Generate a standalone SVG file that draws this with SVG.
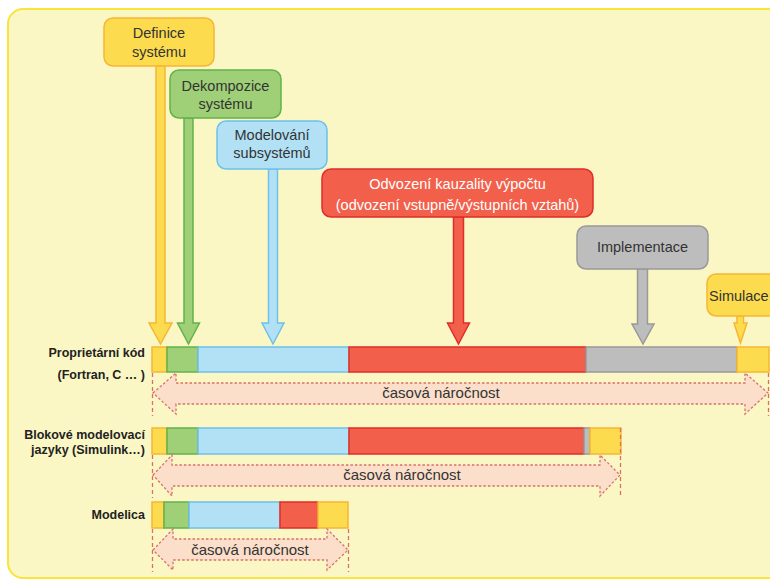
<svg xmlns="http://www.w3.org/2000/svg" width="770" height="579" viewBox="0 0 770 579">
<style>
.bt{font-family:"Liberation Sans",Arial,sans-serif;font-size:14.5px;fill:#333;text-anchor:middle}
.wt{fill:#fff}
.lb{font-family:"Liberation Sans",Arial,sans-serif;font-size:12.5px;font-weight:bold;fill:#222;text-anchor:end}
.ct{font-family:"Liberation Sans",Arial,sans-serif;font-size:15px;fill:#333;text-anchor:middle}
.y{fill:#fcdc4e;stroke:#f6b634;stroke-width:1.5}
.g{fill:#9fcf76;stroke:#62b34a;stroke-width:1.5}
.b{fill:#b2e1f6;stroke:#6fc0ea;stroke-width:1.5}
.r{fill:#f2604b;stroke:#e02c2a;stroke-width:1.5}
.k{fill:#bdbdbd;stroke:#999;stroke-width:1.5}
.da{fill:#fbdfca;stroke:#d9706a;stroke-width:1.3;stroke-dasharray:2.5 2}
.dl{fill:none;stroke:#d9706a;stroke-width:1.3;stroke-dasharray:4 3}
</style>
<rect x="8" y="9" width="775" height="569" rx="15" fill="#fbf7c4" stroke="#f8e43a" stroke-width="2"/>

<g id="connectors">
<polygon class="y" points="156,66 165,66 165,323 172,323 160.5,344 149,323 156,323"/>
<polygon class="g" points="184,118 193,118 193,323 199.5,323 188.5,344 177.5,323 184,323"/>
<polygon class="b" points="268.5,169 277.5,169 277.5,323 284,323 273,344 262,323 268.5,323"/>
<polygon class="r" points="453.5,217 463.5,217 463.5,323 469.5,323 458.5,344 447.5,323 453.5,323"/>
<polygon class="k" points="637.5,269 647.5,269 647.5,324 654,324 643,344 632,324 637.5,324"/>
<polygon class="y" points="737,316 743.5,316 743.5,323 747,323 740.5,343 734,323 737,323"/>
</g>

<g id="definice">
<rect class="y" x="104" y="18" width="110" height="48" rx="9"/>
<text class="bt" x="159" y="38">Definice</text>
<text class="bt" x="159" y="57">systému</text>
</g>
<g id="dekompozice">
<rect class="g" x="170" y="70" width="111" height="48" rx="9"/>
<text class="bt" x="225.5" y="91">Dekompozice</text>
<text class="bt" x="225.5" y="109">systému</text>
</g>
<g id="modelovani">
<rect class="b" x="217" y="121" width="110" height="48" rx="9"/>
<text class="bt" x="272" y="140">Modelování</text>
<text class="bt" x="272" y="158">subsystémů</text>
</g>
<g id="odvozeni">
<rect class="r" x="322" y="169" width="271" height="48" rx="9"/>
<text class="bt wt" x="457.5" y="189">Odvození kauzality výpočtu</text>
<text class="bt wt" x="457.5" y="210">(odvození vstupně/výstupních vztahů)</text>
</g>
<g id="implementace">
<rect class="k" x="577" y="226" width="131" height="43" rx="9"/>
<text class="bt" x="642.5" y="252">Implementace</text>
</g>
<g id="simulace">
<rect class="y" x="707" y="274" width="70" height="42" rx="9"/>
<text class="bt" x="709" y="301" style="text-anchor:start">Simulace</text>
</g>

<g id="row1">
<text class="lb" x="145" y="357">Proprietární kód</text>
<text class="lb" x="145" y="379">(Fortran, C … )</text>
<rect class="y" x="152" y="347" width="15" height="25"/>
<rect class="g" x="167" y="347" width="31" height="25"/>
<rect class="b" x="198" y="347" width="151" height="25"/>
<rect class="r" x="349" y="347" width="237" height="25"/>
<rect class="k" x="586" y="347" width="151" height="25"/>
<rect class="y" x="737" y="347" width="32" height="25"/>
<polygon class="da" points="153,393 176,373 176,383 745,383 745,373 768,393 745,414 745,404 176,404 176,414"/>
<line class="dl" x1="152.5" y1="373" x2="152.5" y2="416"/>
<line class="dl" x1="768.5" y1="373" x2="768.5" y2="416"/>
<text class="ct" x="441" y="398">časová náročnost</text>
</g>

<g id="row2">
<text class="lb" x="145" y="439">Blokové modelovací</text>
<text class="lb" x="145" y="454">jazyky (Simulink…)</text>
<rect class="y" x="152" y="428" width="15" height="26"/>
<rect class="g" x="167" y="428" width="31" height="26"/>
<rect class="b" x="198" y="428" width="151" height="26"/>
<rect class="r" x="349" y="428" width="235" height="26"/>
<rect class="k" x="584" y="428" width="6" height="26"/>
<rect class="y" x="590" y="428" width="31" height="26"/>
<polygon class="da" points="153,475 172,455 172,465 600,465 600,455 620,475 600,496 600,486 172,486 172,496"/>
<line class="dl" x1="152.5" y1="455" x2="152.5" y2="498"/>
<line class="dl" x1="620.5" y1="428" x2="620.5" y2="498"/>
<text class="ct" x="402" y="480">časová náročnost</text>
</g>

<g id="row3">
<text class="lb" x="145" y="519">Modelica</text>
<rect class="y" x="152" y="502" width="12" height="26"/>
<rect class="g" x="164" y="502" width="25" height="26"/>
<rect class="b" x="189" y="502" width="91" height="26"/>
<rect class="r" x="280" y="502" width="38" height="26"/>
<rect class="y" x="318" y="502" width="30" height="26"/>
<polygon class="da" points="153,550 173,529 173,539 327,539 327,529 348,550 327,570 327,560 173,560 173,570"/>
<line class="dl" x1="152.5" y1="529" x2="152.5" y2="572"/>
<line class="dl" x1="348.5" y1="529" x2="348.5" y2="572"/>
<text class="ct" x="250" y="555">časová náročnost</text>
</g>
</svg>
